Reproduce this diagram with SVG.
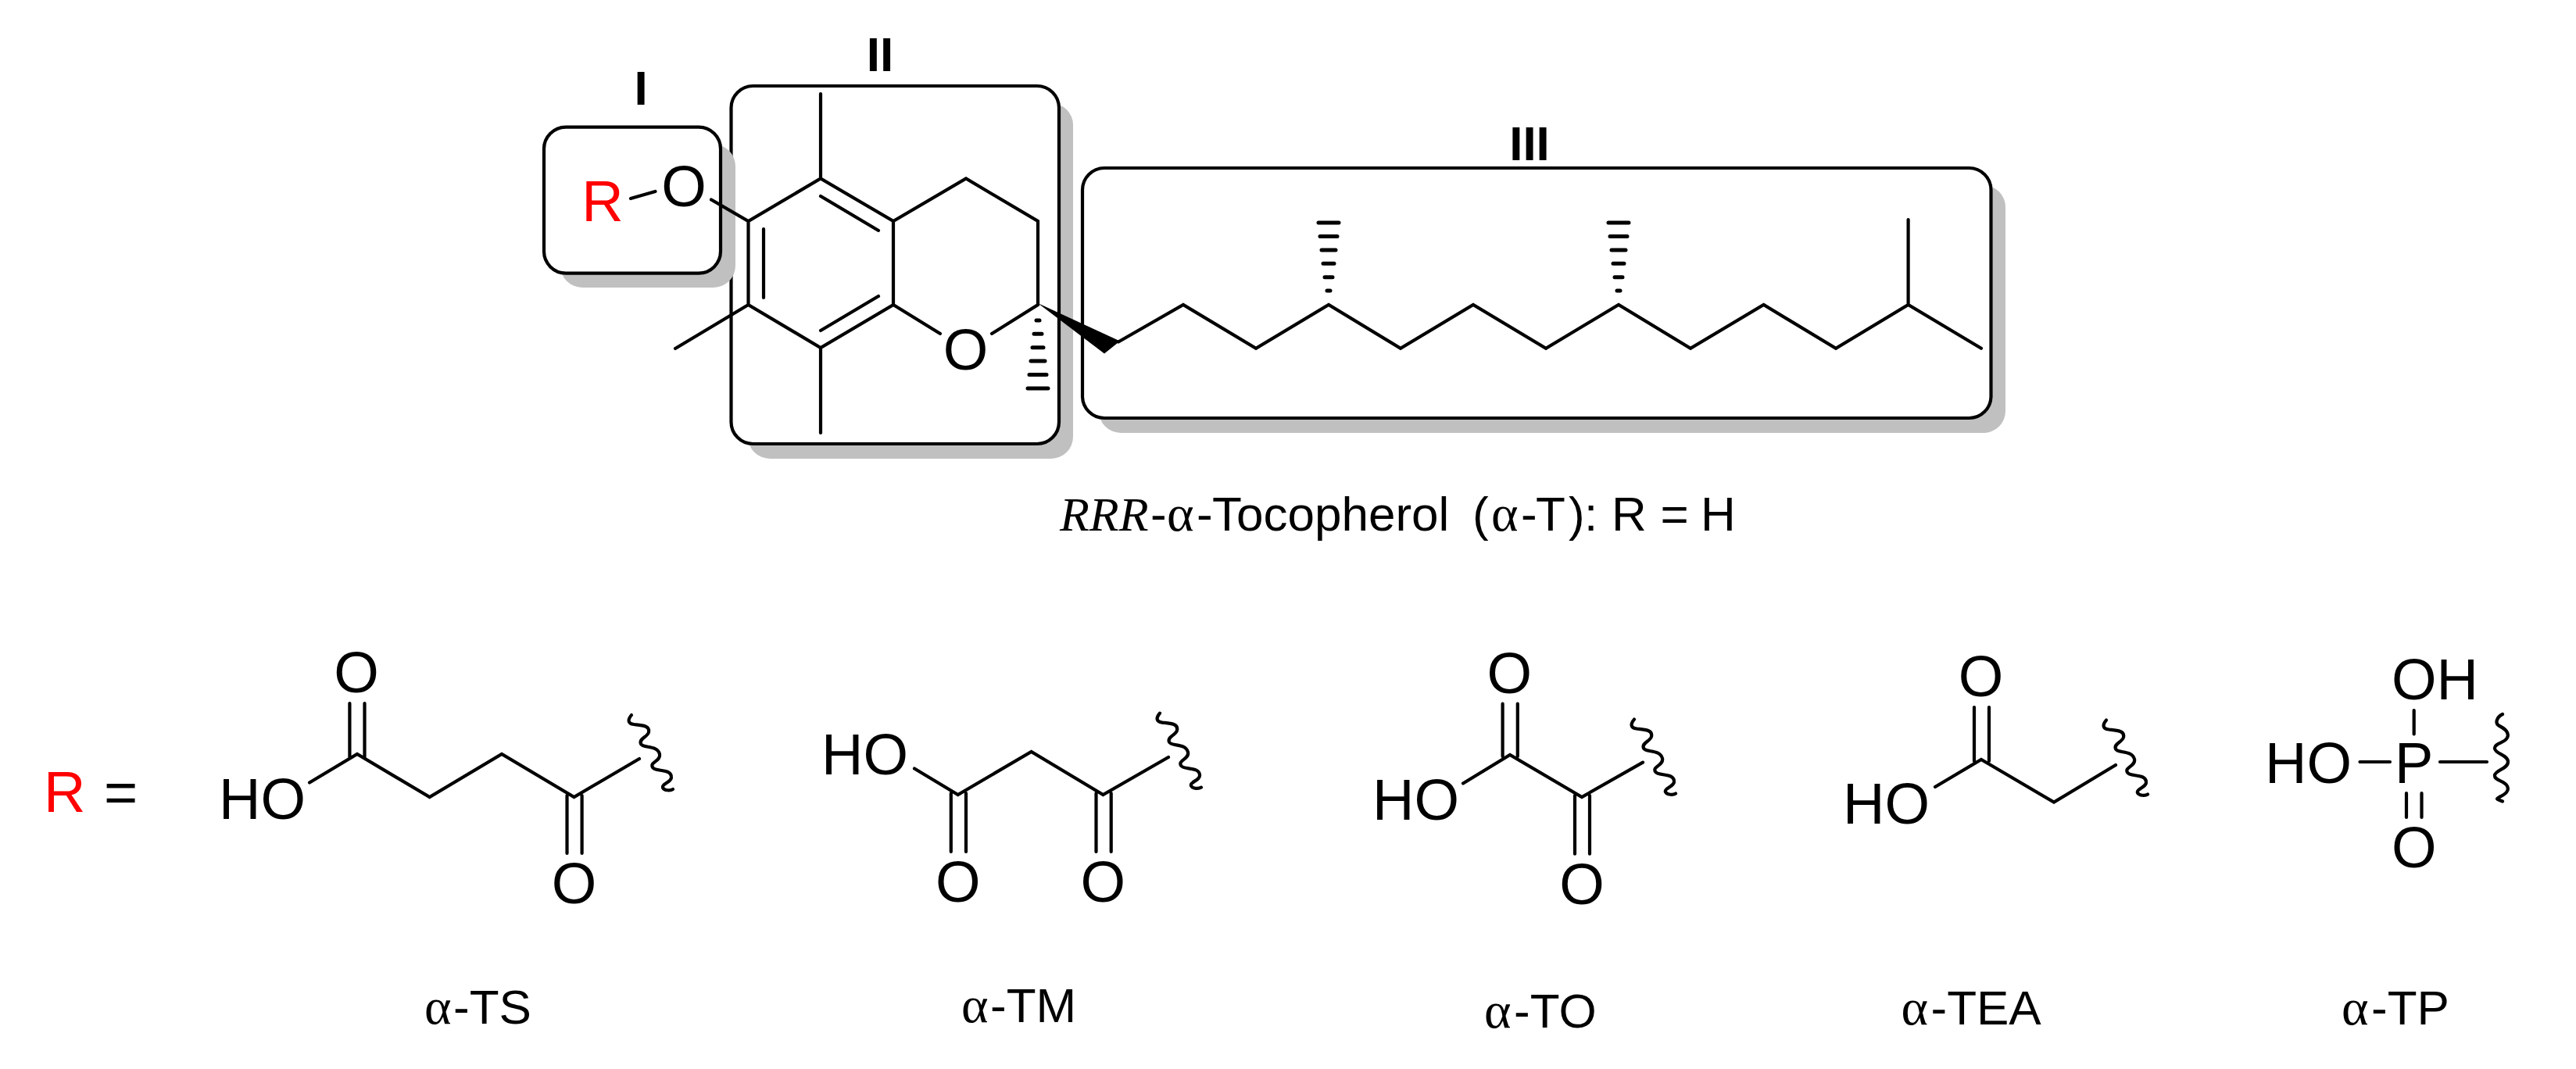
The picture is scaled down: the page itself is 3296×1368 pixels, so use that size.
<svg xmlns="http://www.w3.org/2000/svg" xmlns:xlink="http://www.w3.org/1999/xlink" width="3296" height="1368" viewBox="0 0 3296 1368">
<style>
text{font-family:"Liberation Sans",Arial,sans-serif;fill:#000}
.a{font-size:74px}
.m{text-anchor:middle}
.l{font-size:62px}
.h{font-size:62px;font-weight:bold;text-anchor:middle}
.g{font-family:"Liberation Serif","Times New Roman",serif;font-size:66px}
.i{font-family:"Liberation Serif","Times New Roman",serif;font-style:italic}
.b{fill:none;stroke:#000;stroke-width:4.2;stroke-linecap:round;stroke-linejoin:miter}
.box{fill:#fff;stroke:#000;stroke-width:4.2}
.sh{fill:#c0c0c0}
.r{fill:#f00}
.sq{fill:none;stroke:#000;stroke-width:4.2;stroke-linecap:round}
.hs{fill:none;stroke:#000;stroke-width:5;stroke-linecap:round}
</style>
<defs>
<path id="squiggle" class="sq" d="M0 0C-5 6-5 11 3 12C12 13 24 13 22 22C21 28 9 30 12 37C15 43 33 38 36 50C38 59 23 60 27 67C30 73 50 68 51 79C52 86 38 88 40 93C42 97 50 97 53 95"/>
<path id="hash" class="hs" d="M-2 0H2M-5 17.300H5M-7 34.700H7M-9 52H9M-11 69.400H11M-13 87H13"/>
</defs>
<g id="region-shadows">
<rect class="sh" x="957" y="132" width="416" height="455" rx="28"/>
<rect class="sh" x="1406" y="237" width="1160" height="317" rx="28"/>
</g>
<g id="region-II"><rect class="box" x="935.500" y="110" width="419.500" height="458" rx="28"/></g>
<g id="region-III"><rect class="box" x="1385" y="215" width="1162.500" height="320" rx="28"/></g>
<g id="region-I">
<rect class="sh" x="717" y="184.600" width="224" height="183.400" rx="28"/>
<rect class="box" x="696" y="162.600" width="226" height="187" rx="28"/>
</g>
<g id="tocopherol">
<path class="b" d="M807 254L838.500 245M910 255.500L957.500 283L1050 228.500L1143 283V390L1050 445L957.500 390V283M1143 283L1236 228.500L1328 283V390L1269 427M1143 390L1203 427M1050 228.500V120M1050 445V554M957.500 390L864 446M1050 251L1124 295M977 293V381M1124 379L1050 423"/>
<path class="b" d="M1431 437.500L1514 390L1607 445.700L1700 390L1792 445.700L1885 390L1978 445.700L2071 390L2163 445.700L2256.600 390L2349 445.700L2441.600 390L2535 445.700M2441.600 390V281"/>
<polygon points="1328,388 1433,436.500 1413,452.600"/>
<use xlink:href="#hash" href="#hash" transform="translate(1328 410)"/>
<use xlink:href="#hash" href="#hash" transform="translate(1700 372) scale(1 -1)"/>
<use xlink:href="#hash" href="#hash" transform="translate(2071 372) scale(1 -1)"/>
<text class="a r m" x="771" y="283">R</text>
<text class="a m" x="875" y="263.500">O</text>
<text class="a m" x="1235.500" y="473">O</text>
</g>
<g id="labels">
<text class="h" x="820" y="134">I</text>
<text class="h" x="1126" y="91">II</text>
<text class="h" x="1957" y="205">III</text>
<text class="l" y="678.600"><tspan class="i" x="1356">RRR</tspan><tspan x="1472">-</tspan><tspan class="g" x="1493">α</tspan><tspan x="1531">-</tspan><tspan x="1551">Tocopherol</tspan><tspan x="1884">(</tspan><tspan class="g" x="1908">α</tspan><tspan x="1946">-</tspan><tspan x="1965">T</tspan><tspan x="2007">)</tspan><tspan x="2027">:</tspan><tspan x="2062">R</tspan><tspan x="2124.500">=</tspan><tspan x="2176">H</tspan></text>
<text class="a r" x="56" y="1039">R</text>
<text class="a" x="133" y="1039">=</text>
</g>
<g id="alpha-TS">
<path class="b" d="M396 1001.500L457 965L549.700 1020L642 965L734.500 1020L818 971M447.400 900V970M466.500 900V970M725.500 1018V1092M744.600 1018V1092"/>
<use xlink:href="#squiggle" href="#squiggle" transform="translate(808 915)"/>
<text class="a" x="280" y="1048">HO</text>
<text class="a m" x="456" y="886">O</text>
<text class="a m" x="734.500" y="1156">O</text>
<text class="l" y="1309.600"><tspan class="g" x="543">α</tspan><tspan x="580">-TS</tspan></text>
</g>
<g id="alpha-TM">
<path class="b" d="M1170 983.500L1225.700 1017L1319.600 962L1411.400 1017L1495 969M1216.800 1015V1090M1236 1015V1090M1402.500 1015V1090M1421.700 1015V1090"/>
<use xlink:href="#squiggle" href="#squiggle" transform="translate(1484 912.600)"/>
<text class="a" x="1051" y="991">HO</text>
<text class="a m" x="1225.700" y="1154">O</text>
<text class="a m" x="1411.400" y="1154">O</text>
<text class="l" y="1308"><tspan class="g" x="1230">α</tspan><tspan x="1267">-TM</tspan></text>
</g>
<g id="alpha-TO">
<path class="b" d="M1872 1002.500L1932 966L2024 1020L2102 975.600M1922.600 900.500V968M1941.800 900.500V968M2015 1018V1092.700M2034 1018V1092.700"/>
<use xlink:href="#squiggle" href="#squiggle" transform="translate(2091 920.500)"/>
<text class="a" x="1756" y="1048.600">HO</text>
<text class="a m" x="1931.400" y="887">O</text>
<text class="a m" x="2024" y="1157">O</text>
<text class="l" y="1315"><tspan class="g" x="1899">α</tspan><tspan x="1937">-TO</tspan></text>
</g>
<g id="alpha-TEA">
<path class="b" d="M2476 1007L2535 972L2628 1026.600L2707 979M2526 905V974M2545 905V974"/>
<use xlink:href="#squiggle" href="#squiggle" transform="translate(2695 921.500)"/>
<text class="a" x="2358" y="1054">HO</text>
<text class="a m" x="2534.500" y="891">O</text>
<text class="l" y="1310.700"><tspan class="g" x="2432.500">α</tspan><tspan x="2470.500">-TEA</tspan></text>
</g>
<g id="alpha-TP">
<path class="b" d="M3088.700 909V939.500M3019.500 975H3058M3122 975H3182M3079 1015V1046M3098.500 1015V1046"/>
<path class="sq" d="M3202 914C3194 918 3192 926 3198 929C3206 933 3211 938 3208 944C3205 951 3191 951 3192 958C3193 965 3209 966 3209 975C3209 984 3193 985 3192 992C3191 999 3205 999 3208 1006C3211 1012 3206 1016 3198 1020C3193 1023 3194 1022 3202 1025.500"/>
<text class="a" x="3060" y="894.700">OH</text>
<text class="a" x="2898" y="1002">HO</text>
<text class="a" x="3064" y="1002">P</text>
<text class="a m" x="3088.700" y="1110">O</text>
<text class="l" y="1311"><tspan class="g" x="2996">α</tspan><tspan x="3034">-TP</tspan></text>
</g>
</svg>
